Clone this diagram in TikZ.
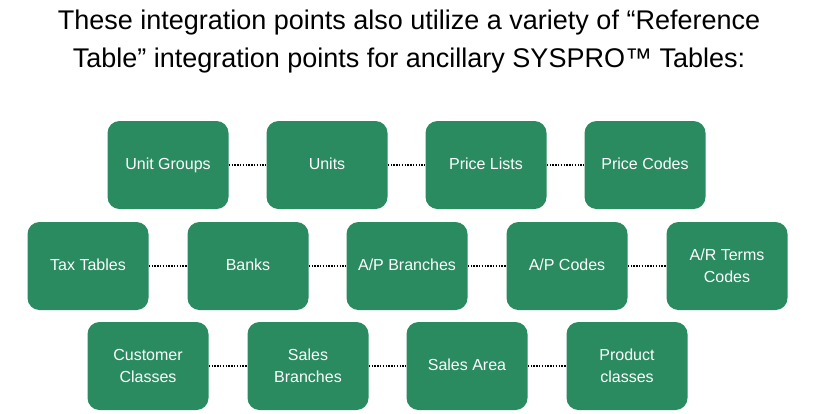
\documentclass[tikz,border=0pt]{standalone}
\usepackage{fontspec}
\setmainfont{Liberation Sans}
\usepackage{tikz}
\usetikzlibrary{positioning}
\definecolor{boxgreen}{HTML}{2A8A60}
\tikzset{
  font={\fontsize{16pt}{22}\selectfont}}
\begin{document}
\begin{tikzpicture}[x=1pt,y=-1pt]
\tikzstyle{tbl}=[draw=none,fill=boxgreen,text=white,rounded corners=12pt,
  minimum width=121pt,minimum height=88pt,align=center,inner sep=2pt]
\tikzstyle{link}=[black,line width=2pt,dash pattern=on 1.5pt off 1.3pt]
\useasboundingbox (0,0) rectangle (818,413);
\node[font={\fontsize{27pt}{38}\selectfont},align=center] (title) at (409,42)
  {These integration points also utilize a variety of “Reference\\Table” integration points for ancillary SYSPRO™ Tables:};
% first row
\node[tbl] (ug) at (168,165) {Unit Groups\strut};
\node[tbl] (un) at (327,165) {Units\strut};
\node[tbl] (pl) at (486,165) {Price Lists\strut};
\node[tbl] (pc) at (645,165) {Price Codes\strut};
% second row
\node[tbl] (tt) at (88,266) {Tax Tables\strut};
\node[tbl] (bk) at (248,266) {Banks\strut};
\node[tbl] (apb) at (407,266) {A/P Branches\strut};
\node[tbl] (apc) at (567,266) {A/P Codes\strut};
\node[tbl] (art) at (727,266) {A/R Terms\\Codes};
% third row
\node[tbl] (cc) at (148,366) {Customer\\Classes};
\node[tbl] (sb) at (308,366) {Sales\\Branches};
\node[tbl] (sa) at (467,366) {Sales Area\strut};
\node[tbl] (pcl) at (627,366) {Product\\classes};
\draw[link] (ug) -- (un);
\draw[link] (un) -- (pl);
\draw[link] (pl) -- (pc);
\draw[link] (tt) -- (bk);
\draw[link] (bk) -- (apb);
\draw[link] (apb) -- (apc);
\draw[link] (apc) -- (art);
\draw[link] (cc) -- (sb);
\draw[link] (sb) -- (sa);
\draw[link] (sa) -- (pcl);
\end{tikzpicture}
\end{document}
